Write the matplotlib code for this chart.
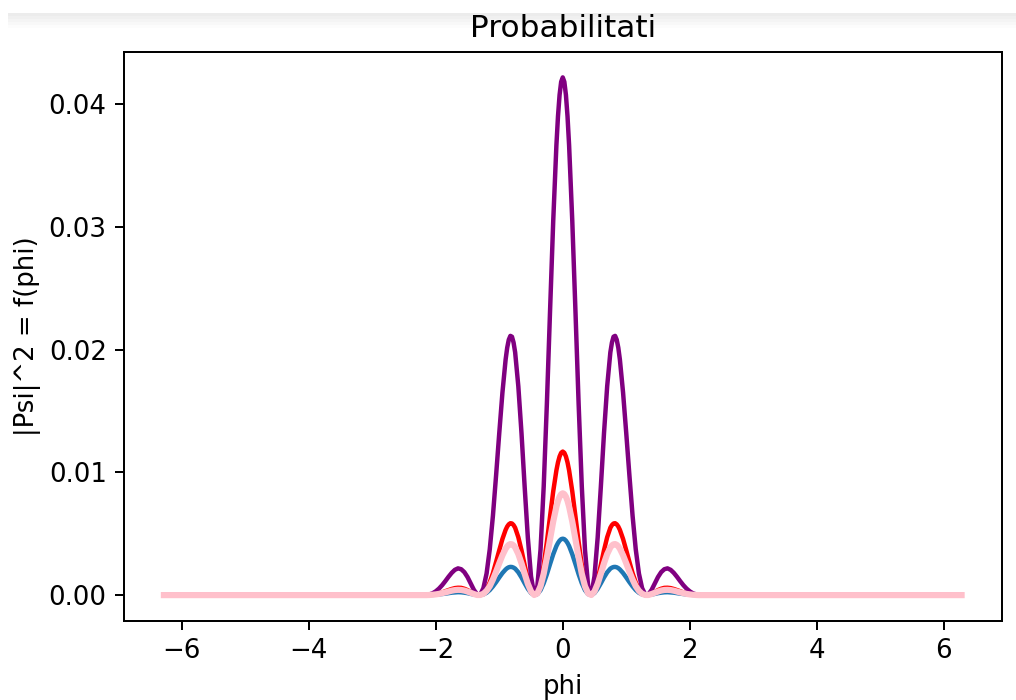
import numpy as np
import matplotlib
matplotlib.use("Agg")
import matplotlib.pyplot as plt
from matplotlib.patches import Rectangle

# phi from 0 to 2.2 (curves are symmetric around 0)
phi_half = [0.000, 0.025, 0.050, 0.075, 0.10, 0.15, 0.20, 0.25, 0.30, 0.35, 0.40, 0.45,
            0.50, 0.55, 0.60, 0.65, 0.70, 0.75, 0.775, 0.80, 0.825, 0.85, 0.875, 0.90, 0.95,
            1.00, 1.05, 1.10, 1.15, 1.20, 1.25, 1.30, 1.35, 1.40, 1.45,
            1.50, 1.55, 1.60, 1.65, 1.70, 1.75, 1.80, 1.85, 1.90, 1.95,
            2.00, 2.05, 2.10, 2.15, 2.20]

blue_half = [0.00460, 0.00456, 0.00444, 0.00425, 0.00400, 0.00333, 0.00253, 0.00170, 0.00097, 0.00040, 0.00008, 0.00001,
             0.00017, 0.00051, 0.00096, 0.00144, 0.00186, 0.00216, 0.00224, 0.00229, 0.00230, 0.00227, 0.00220, 0.00209, 0.00180,
             0.00144, 0.00106, 0.00071, 0.00041, 0.00019, 0.00006, 0.00000, 0.00001, 0.00005, 0.00010,
             0.00016, 0.00020, 0.00023, 0.00024, 0.00022, 0.00020, 0.00016, 0.00012, 0.00009, 0.00006,
             0.00003, 0.00002, 0.00001, 0.00000, 0.00000]

red_half = [0.01170, 0.01160, 0.01130, 0.01082, 0.01017, 0.00846, 0.00642, 0.00433, 0.00246, 0.00103, 0.00020, 0.00001,
            0.00042, 0.00130, 0.00245, 0.00366, 0.00472, 0.00549, 0.00571, 0.00584, 0.00586, 0.00577, 0.00559, 0.00532, 0.00458,
            0.00366, 0.00271, 0.00179, 0.00104, 0.00049, 0.00016, 0.00001, 0.00002, 0.00012, 0.00026,
            0.00041, 0.00052, 0.00059, 0.00060, 0.00057, 0.00050, 0.00041, 0.00032, 0.00022, 0.00015,
            0.00009, 0.00004, 0.00002, 0.00000, 0.00000]

pink_half = [0.00830, 0.00823, 0.00802, 0.00768, 0.00721, 0.00600, 0.00456, 0.00307, 0.00174, 0.00073, 0.00014, 0.00001,
             0.00030, 0.00092, 0.00174, 0.00260, 0.00335, 0.00389, 0.00405, 0.00414, 0.00416, 0.00410, 0.00397, 0.00378, 0.00325,
             0.00260, 0.00192, 0.00127, 0.00073, 0.00035, 0.00011, 0.00001, 0.00001, 0.00009, 0.00019,
             0.00029, 0.00037, 0.00042, 0.00043, 0.00041, 0.00036, 0.00029, 0.00022, 0.00016, 0.00010,
             0.00006, 0.00003, 0.00001, 0.00000, 0.00000]

purple_half = [0.04220, 0.04184, 0.04077, 0.03903, 0.03667, 0.03051, 0.02317, 0.01561, 0.00886, 0.00371, 0.00073, 0.00005,
               0.00153, 0.00469, 0.00882, 0.01321, 0.01703, 0.01979, 0.02059, 0.02106, 0.02113, 0.02082, 0.02017, 0.01920, 0.01652,
               0.01322, 0.00977, 0.00647, 0.00373, 0.00176, 0.00057, 0.00004, 0.00007, 0.00043, 0.00095,
               0.00147, 0.00187, 0.00211, 0.00218, 0.00206, 0.00181, 0.00149, 0.00114, 0.00081, 0.00053,
               0.00031, 0.00015, 0.00006, 0.00001, 0.00000]

# the curves run flat at zero out to +-2*pi
phi_end = 6.2832


def full_curve(half):
    # mirror the right half and add the flat tails
    x = np.array(phi_half)
    y = np.array(half)
    xs = np.concatenate([[-phi_end], -x[:0:-1], x, [phi_end]])
    ys = np.concatenate([[0.0], y[:0:-1], y, [0.0]])
    return xs, ys


DPI = 178
plt.rcParams['font.size'] = 10.5
fig = plt.figure(figsize=(1016 / DPI, 700 / DPI), dpi=DPI)

# faint grey band at the top of the screenshot
for i, c in enumerate(['#ececec', '#f0f0f0', '#f4f4f4', '#f8f8f8', '#fcfcfc']):
    fig.add_artist(Rectangle((8 / 1016, 1 - (16 + 3 * i) / 700), 1, 3 / 700,
                             transform=fig.transFigure, facecolor=c,
                             edgecolor='none', zorder=0))

ax = fig.add_axes([124 / 1016, 1 - 621 / 700, 877.5 / 1016, 569.5 / 700])

x, y = full_curve(blue_half)
ax.plot(x, y, color='#1f77b4', lw=1.8)
x, y = full_curve(red_half)
ax.plot(x, y, color='red', lw=1.8)
x, y = full_curve(purple_half)
ax.plot(x, y, color='purple', lw=1.8)
x, y = full_curve(pink_half)
ax.plot(x, y, color='pink', lw=2.5)

ax.set_xlim(-6.912, 6.912)
ax.set_ylim(-0.00211, 0.04431)
ax.set_xticks([-6, -4, -2, 0, 2, 4, 6])
ax.set_yticks([0.0, 0.01, 0.02, 0.03, 0.04])
ax.set_title('Probabilitati', fontsize=12.6)
ax.set_xlabel('phi')
ax.set_ylabel('|Psi|^2 = f(phi)', labelpad=3)

fig.savefig('out.png', dpi=DPI)
